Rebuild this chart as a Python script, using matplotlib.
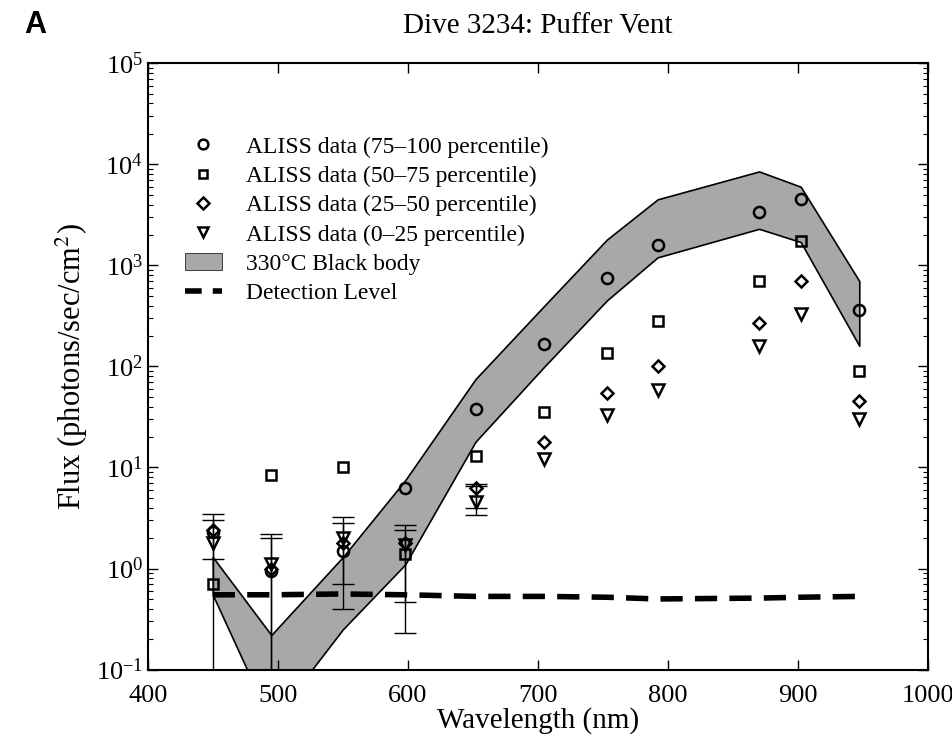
import numpy as np
import matplotlib
matplotlib.use('Agg')
import matplotlib.pyplot as plt
from matplotlib.patches import Patch
from matplotlib.lines import Line2D

plt.rcParams['font.family'] = ['Liberation Serif', 'DejaVu Serif']
plt.rcParams['mathtext.fontset'] = 'stix'

# wavelengths (nm)
wl = [450, 495, 550, 598, 652, 705, 753, 792, 870, 902, 947]

# ALISS data per percentile group
p75_100 = [2.3, 0.95, 1.5, 6.3, 38, 165, 750, 1600, 3400, 4500, 360]
p50_75 = [0.7, 8.5, 10, 1.4, 13, 35, 135, 280, 700, 1750, 90]
p25_50 = [2.4, 1.0, 1.8, 1.8, 6.2, 18, 55, 100, 270, 700, 45]
p0_25 = [1.8, 1.1, 2.0, 1.7, 4.6, 12, 33, 58, 160, 330, 30]

# error bar ends (lower, upper) for the first points
err_wl = [450, 495, 550, 598, 652]
err_low = [0.01, 0.01, 0.4, 0.23, 3.4]
err_high = [3.5, 2.2, 3.2, 2.7, 6.8]
err_low2 = [1.25, 0.01, 0.7, 0.47, 4.0]
err_high2 = [3.0, 2.0, 2.8, 2.4, 6.5]

# 330C black body band
bb_upper = [1.3, 0.22, 1.3, 7.5, 75, 400, 1800, 4500, 8500, 6000, 700]
bb_lower = [0.55, 0.03, 0.25, 1.1, 18, 100, 450, 1200, 2300, 1700, 160]

# detection level
detect = [0.55, 0.55, 0.56, 0.55, 0.53, 0.53, 0.52, 0.50, 0.51, 0.52, 0.53]

fig = plt.figure(figsize=(9.53, 7.44), dpi=100)
ax = fig.add_axes([0.155, 0.1, 0.819, 0.815])

ax.fill_between(wl, bb_lower, bb_upper, facecolor='#a8a8a8', edgecolor='black',
                linewidth=1.2, zorder=1)


def bars(lo, hi):
    mid = [(l + h) / 2 for l, h in zip(lo, hi)]
    ax.errorbar(err_wl, mid, yerr=[[m - l for m, l in zip(mid, lo)],
                                   [h - m for m, h in zip(mid, hi)]],
                fmt='none', ecolor='black', elinewidth=1, capsize=8, zorder=2)


bars(err_low, err_high)
bars(err_low2, err_high2)

ax.plot(wl, detect, color='black', linestyle=(0, (4, 2.2)), linewidth=4, zorder=3)

mk = dict(linestyle='none', markerfacecolor='none', markeredgecolor='black',
          markeredgewidth=1.8, zorder=4)
ax.plot(wl, p75_100, marker='o', markersize=8, **mk)
ax.plot(wl, p50_75, marker='s', markersize=6.5, **mk)
ax.plot(wl, p25_50, marker='D', markersize=6.5, **mk)
ax.plot(wl, p0_25, marker='v', markersize=8.5, **mk)

ax.set_yscale('log')
ax.set_xlim(400, 1000)
ax.set_ylim(0.1, 1e5)
ax.set_xticks([400, 500, 600, 700, 800, 900, 1000])
ax.tick_params(which='both', direction='in', top=True, right=True, labelsize=19)
ax.tick_params(axis='x', pad=11)
ax.tick_params(which='major', length=7, width=1)
ax.tick_params(which='minor', length=3.5, width=0.8)
for s in ax.spines.values():
    s.set_linewidth(1.5)

ax.set_xlabel('Wavelength (nm)', fontsize=21, labelpad=0)
ax.set_ylabel('Flux (photons/sec/cm$^2$)', fontsize=22, labelpad=4)
ax.set_title('Dive 3234: Puffer Vent', fontsize=21, pad=22)
fig.text(0.025, 0.955, 'A', fontsize=22, fontweight='bold', family='Liberation Sans')

handles = [
    Line2D([], [], marker='o', markersize=7, **mk),
    Line2D([], [], marker='s', markersize=6, **mk),
    Line2D([], [], marker='D', markersize=6, **mk),
    Line2D([], [], marker='v', markersize=7, **mk),
    Patch(facecolor='#a8a8a8', edgecolor='black', linewidth=0.5),
    Line2D([], [], color='black', linestyle=(0, (3, 2)), linewidth=4),
]
labels = ['ALISS data (75\u2013100 percentile)', 'ALISS data (50\u201375 percentile)',
          'ALISS data (25\u201350 percentile)', 'ALISS data (0\u201325 percentile)',
          '330\u00b0C Black body', 'Detection Level']
ax.legend(handles, labels, loc='upper left', bbox_to_anchor=(0.02, 0.915), frameon=False,
          fontsize=17, handlelength=1.6, handletextpad=1.0, labelspacing=0.33)

fig.savefig('out.png', dpi=100)
